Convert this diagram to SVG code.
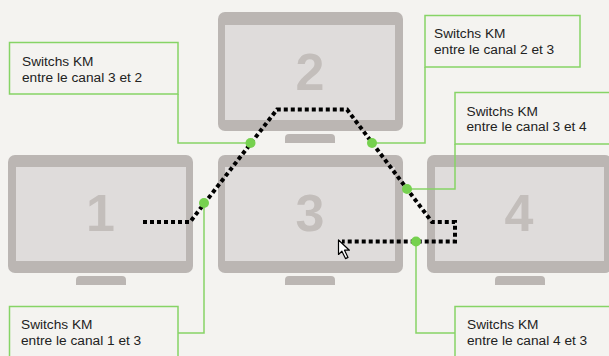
<svg xmlns="http://www.w3.org/2000/svg" width="609" height="356" viewBox="0 0 609 356">
<style>
.frame{fill:#bbb6b3}
.screen{fill:#dfdcdb}
.num{font-family:"Liberation Sans",Arial,sans-serif;font-weight:bold;font-size:52px;fill:#c3bebb;text-anchor:middle}
.box{fill:#f4f3f0;stroke:#86d466;stroke-width:1.5}
.lead{fill:none;stroke:#86d466;stroke-width:1.5}
.lbl{font-family:"Liberation Sans",Arial,sans-serif;font-size:13.7px;fill:#222}
.path{fill:none;stroke:#000;stroke-width:4;stroke-dasharray:4 3}
.dot{fill:#76d14f}
</style>
<rect width="609" height="356" fill="#f4f3f0"/>
<g id="monitor-2">
<rect class="frame" x="218" y="12" width="185" height="119" rx="7"/>
<rect class="screen" x="225" y="25" width="170" height="95"/>
<path class="frame" d="M285,143 v-5 a4,4 0 0 1 4,-4 h42 a4,4 0 0 1 4,4 v5 z"/>
<text class="num" x="310" y="89.5">2</text>
</g>
<g id="monitor-1">
<rect class="frame" x="8" y="155" width="185" height="118" rx="7"/>
<rect class="screen" x="16" y="167" width="170" height="94"/>
<path class="frame" d="M76,285 v-5 a4,4 0 0 1 4,-4 h42 a4,4 0 0 1 4,4 v5 z"/>
<text class="num" x="100.5" y="231">1</text>
</g>
<g id="monitor-3">
<rect class="frame" x="218" y="155" width="185" height="118" rx="7"/>
<rect class="screen" x="225" y="167" width="170" height="94"/>
<path class="frame" d="M285,285 v-5 a4,4 0 0 1 4,-4 h42 a4,4 0 0 1 4,4 v5 z"/>
<text class="num" x="310" y="231">3</text>
</g>
<g id="monitor-4">
<rect class="frame" x="427" y="155" width="185" height="118" rx="7"/>
<rect class="screen" x="435" y="167" width="169" height="94"/>
<path class="frame" d="M495,285 v-5 a4,4 0 0 1 4,-4 h42 a4,4 0 0 1 4,4 v5 z"/>
<text class="num" x="519" y="231">4</text>
</g>
<g id="connectors">
<path class="path" d="M143,222 H190 L277,109.5 H347 L432,222 H455 V241.5 H342"/>
<path class="lead" d="M178,94 V143 H250"/>
<path class="lead" d="M425,67 V143 H372"/>
<path class="lead" d="M455,144 V189 H407"/>
<path class="lead" d="M204,203 V333 H178"/>
<path class="lead" d="M416,241.5 V333 H455"/>
<circle class="dot" cx="204" cy="203" r="5"/>
<circle class="dot" cx="250.5" cy="143" r="5"/>
<circle class="dot" cx="372" cy="143" r="5"/>
<circle class="dot" cx="407" cy="189" r="5"/>
<circle class="dot" cx="416" cy="241.5" r="5"/>
</g>
<g id="cursor">
<path d="M338.5,240 v14.5 l3.4,-3.3 l3.6,7.4 l2.5,-1.2 l-3.5,-7.2 h4.9 z" fill="#fff" stroke="#000" stroke-width="1.2" stroke-linejoin="round"/>
</g>
<g id="label-3-2">
<rect class="box" x="9.5" y="42.5" width="168.5" height="51.5"/>
<text class="lbl" x="22" y="65.5">Switchs KM</text>
<text class="lbl" x="22" y="81.5">entre le canal 3 et 2</text>
</g>
<g id="label-2-3">
<rect class="box" x="425" y="15.5" width="155" height="51.5"/>
<text class="lbl" x="434" y="37.5">Switchs KM</text>
<text class="lbl" x="434" y="53.5">entre le canal 2 et 3</text>
</g>
<g id="label-3-4">
<rect class="box" x="455" y="92.5" width="160" height="51.5"/>
<text class="lbl" x="466.5" y="115.5">Switchs KM</text>
<text class="lbl" x="466.5" y="131">entre le canal 3 et 4</text>
</g>
<g id="label-1-3">
<rect class="box" x="9.5" y="306.5" width="168.5" height="60"/>
<text class="lbl" x="21" y="328.5">Switchs KM</text>
<text class="lbl" x="21" y="344.5">entre le canal 1 et 3</text>
</g>
<g id="label-4-3">
<rect class="box" x="455" y="306.5" width="160" height="60"/>
<text class="lbl" x="467" y="328.5">Switchs KM</text>
<text class="lbl" x="467" y="344.5">entre le canal 4 et 3</text>
</g>
</svg>
